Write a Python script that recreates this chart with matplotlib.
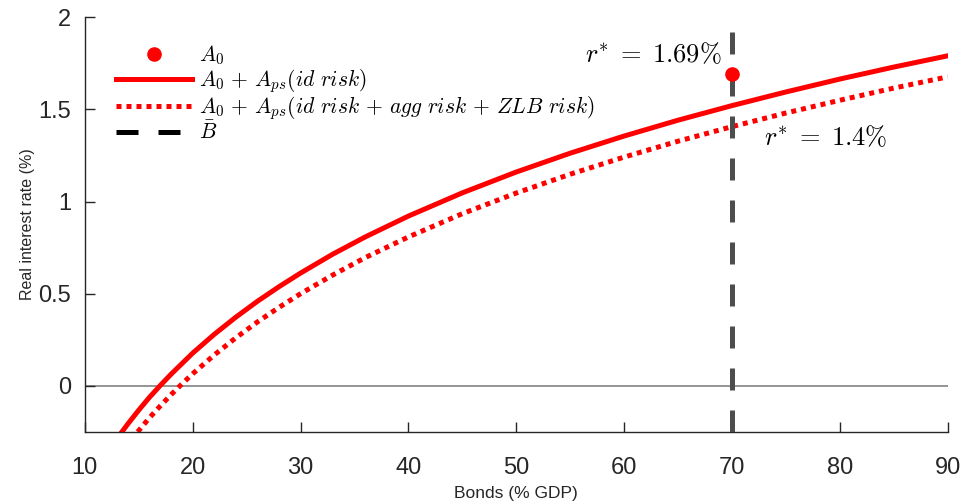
import matplotlib
matplotlib.use("Agg")
import matplotlib.pyplot as plt

plt.rcParams['font.family'] = ['Liberation Sans', 'DejaVu Sans']
plt.rcParams['mathtext.fontset'] = 'cm'

# curve data
bonds_id = [13.4, 14, 15, 16, 17, 18, 20, 22, 24, 26, 28, 30, 33, 36, 40,
            45, 50, 55, 60, 65, 70, 75, 80, 85, 90]
r_id = [-0.252, -0.205, -0.131, -0.061, 0.003, 0.064, 0.178, 0.280, 0.373,
        0.459, 0.538, 0.612, 0.715, 0.808, 0.921, 1.047, 1.160, 1.262,
        1.355, 1.441, 1.520, 1.594, 1.664, 1.729, 1.790]

bonds_all = [14.9, 15, 16, 17, 18, 19, 20, 22, 24, 26, 28, 30, 33, 36, 40,
             45, 50, 55, 60, 65, 70, 75, 80, 85, 90]
r_all = [-0.249, -0.242, -0.172, -0.108, -0.047, 0.011, 0.066, 0.168, 0.261,
         0.347, 0.426, 0.500, 0.602, 0.696, 0.808, 0.934, 1.046, 1.148,
         1.241, 1.327, 1.406, 1.480, 1.549, 1.615, 1.676]

b_bar = 70
a0_bonds = [70]
a0_rate = [1.69]

xticks = [10, 20, 30, 40, 50, 60, 70, 80, 90]
yticks = [0, 0.5, 1, 1.5, 2]
ytick_labels = ['0', '0.5', '1', '1.5', '2']

fig = plt.figure(figsize=(9.64, 5.03), dpi=100)
ax = fig.add_axes([0.088, 0.141, 0.895, 0.825])

ax.axhline(0, color='#8c8c8c', lw=1.3, zorder=1)

h_dot, = ax.plot(a0_bonds, a0_rate, 'o', color='#ff0000', ms=9.5, zorder=5,
                 label=r'$A_0$')
h_id, = ax.plot(bonds_id, r_id, '-', color='#ff0000', lw=3.6,
                label=r'$A_0\,+\,A_{ps}(id\ risk)$')
h_all, = ax.plot(bonds_all, r_all, color='#ff0000', lw=3.6, dashes=(1, 1),
                 dash_capstyle='butt',
                 label=r'$A_0\,+\,A_{ps}(id\ risk\,+\,agg\ risk\,+\,ZLB\ risk)$')
h_b = ax.axvline(b_bar, color='#4d4d4d', lw=3.6, dashes=(4.4, 4.0), zorder=3,
                 label=r'$\bar{B}$')

ax.text(69.0, 1.80, r'$r^{*}\;=\;1.69\%$', fontsize=19, ha='right', va='center')
ax.text(73.0, 1.35, r'$r^{*}\;=\;1.4\%$', fontsize=19, ha='left', va='center')

ax.set_xlim(10, 90)
ax.set_ylim(-0.25, 2)
ax.set_xticks(xticks)
ax.set_yticks(yticks)
ax.set_yticklabels(ytick_labels)
ax.tick_params(direction='in', length=7, width=1, colors='#262626',
               labelsize=17)
ax.tick_params(axis='x', pad=18)
ax.tick_params(axis='y', pad=10)
for s in ['top', 'right']:
    ax.spines[s].set_visible(False)
for s in ['left', 'bottom']:
    ax.spines[s].set_color('#262626')
    ax.spines[s].set_linewidth(1)

ax.set_xlabel('Bonds (% GDP)', fontsize=12.5, color='#262626', labelpad=5)
ax.set_ylabel('Real interest rate (%)', fontsize=11.5, color='#262626', labelpad=2)

leg = ax.legend(handles=[h_dot, h_id, h_all, h_b], loc='upper left',
                bbox_to_anchor=(0.019, 0.972), frameon=False, fontsize=15.5,
                handlelength=3.5, handletextpad=0.35, labelspacing=-0.02,
                borderaxespad=0.3)
leg.legend_handles[3].set_color('black')

fig.savefig('out.png', dpi=100)
